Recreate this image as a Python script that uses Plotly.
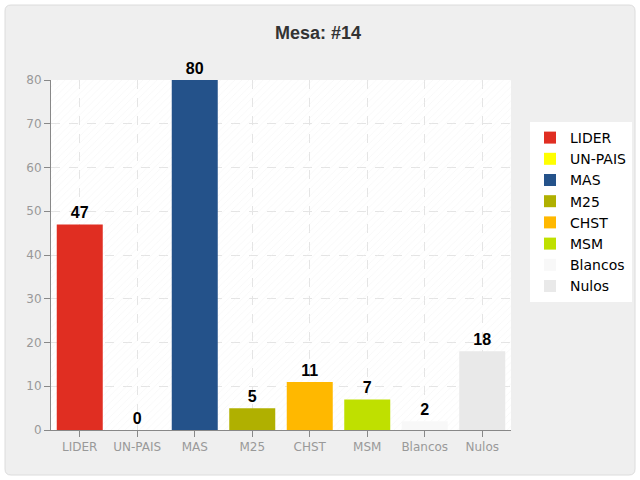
import plotly.graph_objects as go

categories = ["LIDER", "UN-PAIS", "MAS", "M25", "CHST", "MSM", "Blancos", "Nulos"]
votes = [47, 0, 80, 5, 11, 7, 2, 18]
colors = ["#e02e22", "#ffff00", "#24528a", "#b0b000", "#ffb800", "#bfe000", "#f8f8f8", "#e9e9e9"]
y_ticks = [0, 10, 20, 30, 40, 50, 60, 70, 80]

W, H = 640, 480
L, R, T, B = 51, 129, 80, 50


def px(x):
    return (x - L) / (W - L - R)


def py(y):
    return (H - B - y) / (H - T - B)


fig = go.Figure()

# hatched background of the plot area
fig.add_trace(go.Bar(
    x=[categories[0]], y=[max(y_ticks)], width=len(categories), offset=-0.5,
    marker=dict(color="rgba(0,0,0,0)", line=dict(width=0),
                pattern=dict(shape="/", fgcolor="#eeeeee", bgcolor="rgba(0,0,0,0)",
                             size=5, solidity=0.15)),
    hoverinfo="skip", showlegend=False,
))

for cat, val, col in zip(categories, votes, colors):
    fig.add_trace(go.Bar(
        x=[cat], y=[val], name=cat, width=0.8,
        marker=dict(color=col, line=dict(width=0)),
        text=[str(val)], textposition="outside", cliponaxis=False,
        textfont=dict(family="Liberation Sans, Arial", size=16, color="#000000", weight="bold"),
    ))

# rounded outer panel
x0, x1, y0, y1, r = 5, 635, 5, 475, 6
path = (f"M {px(x0 + r)} {py(y0)} L {px(x1 - r)} {py(y0)} "
        f"Q {px(x1)} {py(y0)} {px(x1)} {py(y0 + r)} L {px(x1)} {py(y1 - r)} "
        f"Q {px(x1)} {py(y1)} {px(x1 - r)} {py(y1)} L {px(x0 + r)} {py(y1)} "
        f"Q {px(x0)} {py(y1)} {px(x0)} {py(y1 - r)} L {px(x0)} {py(y0 + r)} "
        f"Q {px(x0)} {py(y0)} {px(x0 + r)} {py(y0)} Z")
fig.add_shape(type="path", xref="paper", yref="paper", path=path,
              fillcolor="#efefef", line=dict(color="#dcdcdc", width=1), layer="below")
# white plot area on top of the panel
fig.add_shape(type="rect", xref="paper", yref="paper", x0=0, x1=1, y0=0, y1=1,
              fillcolor="#ffffff", line=dict(width=0), layer="below")

fig.update_layout(
    width=W, height=H,
    margin=dict(l=L, r=R, t=T, b=B, autoexpand=False),
    paper_bgcolor="#ffffff",
    plot_bgcolor="#ffffff",
    barmode="overlay",
    title=dict(text="<b>Mesa: #14</b>", x=318 / W, xanchor="center", y=1 - 33 / H, yanchor="middle",
               font=dict(family="Liberation Sans, Arial", size=18, color="#333333")),
    font=dict(family="DejaVu Sans, Verdana", size=12, color="#999999"),
    legend=dict(x=px(530), xanchor="left", y=py(212), yanchor="middle",
                bgcolor="#ffffff", borderwidth=0,
                font=dict(family="DejaVu Sans, Verdana", size=14, color="#000000"),
                itemwidth=30, tracegroupgap=0),
    xaxis=dict(type="category", range=[-0.5, len(categories) - 0.5],
               showgrid=True, gridcolor="#e4e4e4", griddash="dash", gridwidth=1,
               showline=True, linecolor="#888888", linewidth=1,
               ticks="outside", tickcolor="#888888", ticklen=6,
               tickfont=dict(color="#999999", size=12)),
    yaxis=dict(range=[0, max(y_ticks)], tickvals=y_ticks,
               showgrid=True, gridcolor="#e4e4e4", griddash="dash", gridwidth=1,
               zeroline=False,
               showline=True, linecolor="#888888", linewidth=1,
               ticks="outside", tickcolor="#888888", ticklen=6,
               tickfont=dict(color="#999999", size=12)),
)

fig.write_html("out.html", config={"displayModeBar": False},
               post_script="document.body.style.margin='0';")
